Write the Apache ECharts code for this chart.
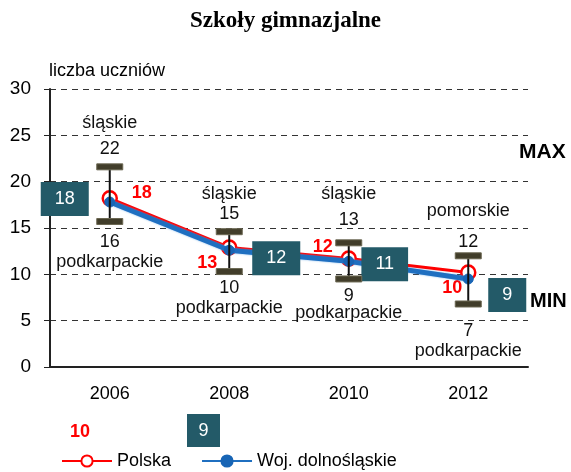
<!DOCTYPE html>
<html lang="pl">
<head>
    <meta charset="UTF-8" />
    <title>Szkoły gimnazjalne</title>
    <script src="https://cdn.jsdelivr.net/npm/echarts@6.0.0/dist/echarts.min.js"></script>
    <style>
        html, body { margin: 0; padding: 0; background: #fff; }
        #main1 { width: 571px; height: 472px; }
    </style>
</head>
<body>
<div id="main1"></div>
<script>
    var years = ['2006', '2008', '2010', '2012'];
    var polska = [18.2, 12.9, 11.7, 10.2];
    var polskaLabel = ['18', '13', '12', '10'];
    var dolnoslaskie = [17.8, 12.6, 11.4, 9.5];
    var dolnoslaskieLabel = ['18', '12', '11', '9'];
    var maxVal = [21.6, 14.6, 13.4, 12.0];
    var minVal = [15.7, 10.3, 9.5, 6.8];
    var maxLabel = ['22', '15', '13', '12'];
    var minLabel = ['16', '10', '9', '7'];
    var maxRegion = ['śląskie', 'śląskie', 'śląskie', 'pomorskie'];
    var minRegion = ['podkarpackie', 'podkarpackie', 'podkarpackie', 'podkarpackie'];

    // where the callouts sit next to the points (px)
    var redOffsets = [[32, -5], [-22, 16], [-26, -12], [-16, 16]];
    var boxOffsets = [[-45, -3], [47, 8], [36, 3], [39, 16]];
    var topValOff = [-18, -18, -23, -14];
    var topRegOff = [-44, -38, -49, -45];
    var botValOff = [21, 16, 17, 27];
    var botRegOff = [41, 36, 34, 47];

    var font = 'Liberation Sans, Arial, sans-serif';
    var teal = '#235a68';

    var myChart1 = echarts.init(document.getElementById('main1'));

    var redData = polska.map(function (v, i) {
        return { value: v, label: { offset: redOffsets[i], formatter: polskaLabel[i] } };
    });
    var blueData = dolnoslaskie.map(function (v, i) {
        return { value: v, label: { offset: boxOffsets[i], formatter: dolnoslaskieLabel[i] } };
    });
    var barData = years.map(function (y, i) {
        return [i, maxVal[i], minVal[i]];
    });

    var option = {
        animation: false,
        title: {
            text: 'Szkoły gimnazjalne',
            left: 'center',
            top: 5,
            textStyle: {
                fontFamily: 'Liberation Serif, Times New Roman, serif',
                fontWeight: 'bold',
                fontSize: 23,
                color: '#000'
            }
        },
        grid: {
            left: 50,
            right: 43,
            top: 89,
            height: 278
        },
        legend: {
            left: 61,
            top: 451,
            padding: 0,
            itemWidth: 50,
            itemHeight: 14,
            itemGap: 30,
            textStyle: { fontFamily: font, fontSize: 18, color: '#000', lineHeight: 20 },
            data: ['Polska', 'Woj. dolnośląskie']
        },
        xAxis: {
            type: 'category',
            data: years,
            axisLine: { lineStyle: { color: '#222', width: 2 } },
            axisTick: { length: 5, lineStyle: { color: '#222' } },
            axisLabel: { fontFamily: font, fontSize: 18, color: '#000', margin: 18 }
        },
        yAxis: {
            type: 'value',
            min: 0,
            max: 30,
            interval: 5,
            name: 'liczba uczniów',
            nameGap: 9,
            nameTextStyle: { fontFamily: font, fontSize: 18, color: '#000', align: 'left', padding: [0, 0, 0, -1] },
            axisLine: { show: true, lineStyle: { color: '#222', width: 2 } },
            axisTick: { show: true, length: 6, lineStyle: { color: '#222' } },
            axisLabel: { fontFamily: font, fontSize: 19, color: '#000', margin: 19 },
            splitLine: { lineStyle: { color: '#333', type: [6, 5], width: 1 } }
        },
        graphic: [
            { type: 'text', left: 519, top: 142, style: { text: 'MAX', font: 'bold 21px ' + font, fill: '#000' } },
            { type: 'text', left: 530, top: 291, style: { text: 'MIN', font: 'bold 20px ' + font, fill: '#000' } },
            { type: 'text', left: 70, top: 423, style: { text: '10', font: 'bold 18px ' + font, fill: '#ff0000' } },
            {
                type: 'group', left: 187, top: 414,
                children: [
                    { type: 'rect', shape: { x: 0, y: 0, width: 33, height: 33 }, style: { fill: teal } },
                    { type: 'text', x: 16.5, y: 17, style: { text: '9', font: '18px ' + font, fill: '#fff', align: 'center', verticalAlign: 'middle' } }
                ]
            }
        ],
        series: [
            {
                name: 'Polska',
                type: 'line',
                data: redData,
                z: 2,
                symbol: 'circle',
                symbolSize: 14,
                lineStyle: { color: '#ff0000', width: 3 },
                itemStyle: { color: '#fff', borderColor: '#ff0000', borderWidth: 2.5 },
                label: {
                    show: true,
                    position: 'inside',
                    fontFamily: font,
                    fontWeight: 'bold',
                    fontSize: 18,
                    color: '#ff0000'
                }
            },
            {
                name: 'Woj. dolnośląskie',
                type: 'line',
                data: blueData,
                z: 3,
                symbol: 'circle',
                symbolSize: 10,
                lineStyle: { color: '#1f6fc0', width: 5, shadowColor: 'rgba(90,160,230,0.8)', shadowBlur: 2 },
                itemStyle: { color: '#1865b5', borderColor: '#1865b5', borderWidth: 1 },
                label: {
                    show: true,
                    position: 'inside',
                    fontFamily: font,
                    fontSize: 18,
                    color: '#fff',
                    backgroundColor: teal,
                    padding: [8, 14, 8, 14],
                    lineHeight: 18
                }
            },
            {
                name: 'zakres',
                type: 'custom',
                z: 5,
                data: barData,
                renderItem: function (params, api) {
                    var i = params.dataIndex;
                    var top = api.coord([api.value(0), api.value(1)]);
                    var bot = api.coord([api.value(0), api.value(2)]);
                    var x = top[0];
                    var txt = function (t, y) {
                        return {
                            type: 'text',
                            style: {
                                text: t, x: x, y: y,
                                align: 'center', verticalAlign: 'middle',
                                font: '18px ' + font, fill: '#111'
                            }
                        };
                    };
                    return {
                        type: 'group',
                        children: [
                            { type: 'line', shape: { x1: x, y1: top[1], x2: x, y2: bot[1] }, style: { stroke: '#111', lineWidth: 2 } },
                            { type: 'rect', shape: { x: x - 13, y: top[1] - 3, width: 26, height: 6 }, style: { fill: '#413d2a', stroke: '#6b6752', lineWidth: 1 } },
                            { type: 'rect', shape: { x: x - 13, y: bot[1] - 3, width: 26, height: 6 }, style: { fill: '#413d2a', stroke: '#6b6752', lineWidth: 1 } },
                            txt(maxLabel[i], top[1] + topValOff[i]),
                            txt(maxRegion[i], top[1] + topRegOff[i]),
                            txt(minLabel[i], bot[1] + botValOff[i]),
                            txt(minRegion[i], bot[1] + botRegOff[i])
                        ]
                    };
                }
            }
        ]
    };
    myChart1.setOption(option);
</script>
</body>
</html>
